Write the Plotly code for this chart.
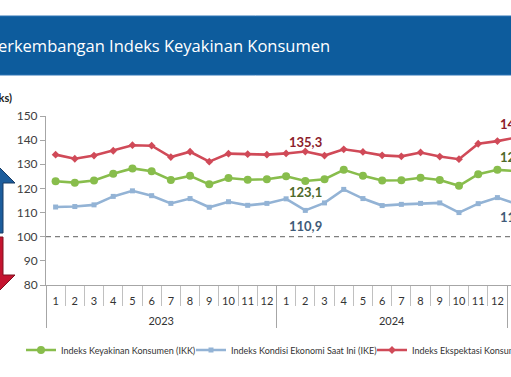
import plotly.graph_objects as go

# ---------------- data ----------------
years = ["2023"] * 12 + ["2024"] * 12 + ["2025"]
months = [str(m) for m in range(1, 13)] * 2 + ["1"]

ikk = [123.0, 122.4, 123.3, 126.1, 128.3, 127.1, 123.5, 125.2, 121.7, 124.3, 123.6, 123.8,
       125.0, 123.1, 123.8, 127.7, 125.2, 123.3, 123.4, 124.4, 123.5, 121.1, 125.9, 127.7,
       127.2]
ike = [112.3, 112.5, 113.2, 116.7, 119.0, 117.0, 113.8, 115.8, 112.2, 114.5, 113.0, 113.8,
       115.7, 110.9, 114.0, 119.6, 115.8, 112.9, 113.4, 113.8, 114.0, 110.0, 113.7, 116.2,
       113.5]
iek = [134.0, 132.3, 133.6, 135.6, 137.9, 137.7, 133.0, 135.2, 131.1, 134.4, 134.2, 134.0,
       134.5, 135.3, 133.6, 136.2, 135.1, 133.7, 133.3, 134.9, 133.2, 132.1, 138.5, 139.6,
       141.1]

label_mid = 13      # Feb 2024
label_end = 24      # Jan 2025 (cut at the right edge)
BASELINE = 100
y_ticks = [80, 90, 100, 110, 120, 130, 140, 150]

names = ["Indeks Keyakinan Konsumen (IKK)",
         "Indeks Kondisi Ekonomi Saat Ini (IKE)",
         "Indeks Ekspektasi Konsumen (IEK)"]
title_text = "Perkembangan Indeks Keyakinan Konsumen"
unit_text = "(Indeks)"

# ---------------- geometry helpers (pixels -> paper) ----------------
W, H = 511, 377
L, R, T, B = 46, 511, 116, 285
def px(x):
    return (x - L) / (R - L)
def py(y):
    return (B - y) / (B - T)

n = len(months)
xi = list(range(n))
cat_w = (507 - L) / 24.0
x_range = [-0.5, -0.5 + (R - L) / cat_w]
last_visible = max(i for i in xi if i <= x_range[1])

month_bounds = [i - 0.5 for i in range(n + 1)]
year_names = []
for y in years:
    if y not in year_names:
        year_names.append(y)
year_centers = [sum(i for i in xi if years[i] == y) / years.count(y) for y in year_names]
year_bounds = [i - 0.5 for i in xi if i == 0 or years[i] != years[i - 1]] + [n - 0.5]

def fmt(v):
    return f"{v:.1f}".replace(".", ",")

fig = go.Figure()

green, blue, red = "#88bd4c", "#93b3d5", "#d04a58"
lab_font = dict(family="Lato", size=13, weight="bold")
c_green, c_blue, c_red = "#4e6a2a", "#3f5b78", "#8c1d2c"

fig.add_trace(go.Scatter(
    x=xi, y=ikk, name=names[0], mode="lines+markers", legend="legend",
    line=dict(color=green, width=2.6), marker=dict(symbol="circle", size=8, color=green)))
fig.add_trace(go.Scatter(
    x=xi, y=ike, name=names[1], mode="lines+markers", legend="legend2",
    line=dict(color=blue, width=2.6), marker=dict(symbol="square", size=5, color=blue)))
fig.add_trace(go.Scatter(
    x=xi, y=iek, name=names[2], mode="lines+markers", legend="legend3",
    line=dict(color=red, width=2.6), marker=dict(symbol="diamond", size=6, color=red)))

# empty traces so the helper axes are drawn
for ax in ["x2", "x3", "x4"]:
    fig.add_trace(go.Scatter(x=[], y=[], xaxis=ax, showlegend=False, hoverinfo="skip"))

shapes = []
shapes.append(dict(type="rect", xref="paper", yref="paper",
                   x0=px(-2), x1=px(W + 2), y0=py(75), y1=py(16),
                   fillcolor="#0d5c9d", line=dict(color="#2f74b5", width=1), layer="above"))
shapes.append(dict(type="line", xref="paper", yref="y", x0=0, x1=1,
                   y0=BASELINE, y1=BASELINE,
                   line=dict(color="#7f7f7f", width=1.2, dash="5px,4px"), layer="below"))
def path(pts):
    return "M " + " L ".join(f"{px(a)},{py(b)}" for a, b in pts) + " Z"
shapes.append(dict(type="path", xref="paper", yref="paper",
                   path=path([(-40, 233), (3, 233), (3, 183), (15, 183), (-20, 148), (-40, 148)]),
                   fillcolor="#1c5d9c", line=dict(color="#173a63", width=1)))
shapes.append(dict(type="path", xref="paper", yref="paper",
                   path=path([(-40, 237), (3, 237), (3, 275), (15, 275), (-20, 310), (-40, 310)]),
                   fillcolor="#c4142f", line=dict(color="#7e1020", width=1)))

def value_label(i, vals, shift, color):
    # text sits at data point i; the (invisible) arrow head is kept on a visible category
    return dict(text=fmt(vals[i]), xref="x", yref="y", axref="x", ayref="y",
                x=min(i, last_visible), y=vals[i], ax=i, ay=vals[i],
                showarrow=True, arrowcolor="rgba(0,0,0,0)", arrowwidth=0.1, arrowhead=0,
                xanchor="center", yanchor="middle", yshift=shift,
                font=dict(lab_font, color=color))

annotations = [
    dict(text=title_text, xref="paper", yref="paper", x=px(332), y=py(45),
         xanchor="right", yanchor="middle", showarrow=False,
         font=dict(family="Open Sans", size=16.5, color="white")),
    dict(text=unit_text, xref="paper", yref="paper", x=px(14), y=py(97),
         xanchor="right", yanchor="middle", showarrow=False,
         font=dict(family="Lato", size=11, color="#222222", weight="bold")),
    value_label(label_mid, iek, 9, c_red),
    value_label(label_mid, ikk, -11, c_green),
    value_label(label_mid, ike, -16, c_blue),
    value_label(label_end, iek, 13, c_red),
    value_label(label_end, ikk, 14, c_green),
    value_label(label_end, ike, -13, c_blue),
]

leg_common = dict(orientation="h", xanchor="left", yanchor="middle", y=py(350),
                  font=dict(size=9, color="#333333"), bgcolor="rgba(0,0,0,0)")
helper = dict(overlaying="x", anchor="y", side="bottom", range=x_range, automargin=False,
              tickmode="array", showline=False, showgrid=False, zeroline=False)

fig.update_layout(
    width=W, height=H, autosize=False,
    margin=dict(l=L, r=W - R, t=T, b=H - B, pad=0, autoexpand=False),
    paper_bgcolor="white", plot_bgcolor="white",
    shapes=shapes, annotations=annotations,
    font=dict(family="Lato", color="#404040"),
    xaxis=dict(range=x_range, tickmode="array", tickvals=xi, ticktext=months,
               showline=True, linecolor="#a6a6a6", showgrid=False, zeroline=False,
               ticks="", tickangle=0, automargin=False,
               tickfont=dict(size=11, color="#333333"), ticklabelstandoff=6),
    xaxis2=dict(helper, tickvals=month_bounds, ticks="outside", ticklen=20,
                tickcolor="#c0c0c0", showticklabels=False),
    xaxis3=dict(helper, tickvals=year_centers, ticktext=year_names, ticks="",
                tickangle=0, tickfont=dict(size=11, color="#333333"), ticklabelstandoff=28),
    xaxis4=dict(helper, tickvals=year_bounds, ticks="outside", ticklen=42,
                tickcolor="#a6a6a6", showticklabels=False),
    yaxis=dict(range=[80, 150], tickmode="array", tickvals=y_ticks, showline=True,
               linecolor="#a6a6a6", ticks="outside", ticklen=5, tickcolor="#a6a6a6",
               showgrid=False, zeroline=False, automargin=False,
               tickfont=dict(size=12, color="#404040")),
    legend=dict(leg_common, x=px(21)),
    legend2=dict(leg_common, x=px(191)),
    legend3=dict(leg_common, x=px(372)),
    showlegend=True,
)

fig.write_html("out.html", config={"displayModeBar": False},
               post_script="document.body.style.margin='0px';")
